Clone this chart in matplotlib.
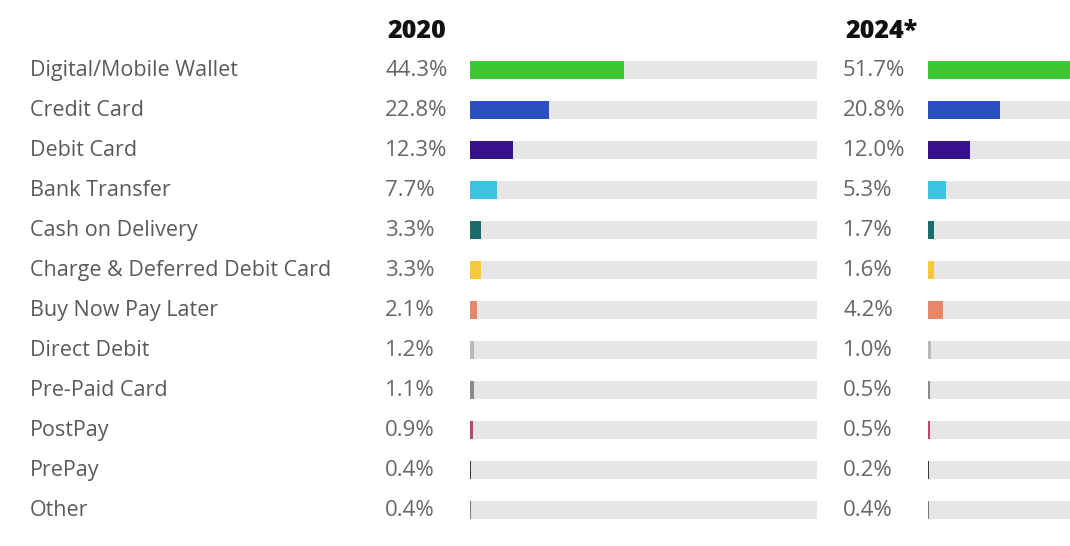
import matplotlib
matplotlib.use("Agg")
import matplotlib.pyplot as plt
import matplotlib.transforms as mtransforms

# data
methods = ["Digital/Mobile Wallet", "Credit Card", "Debit Card", "Bank Transfer",
           "Cash on Delivery", "Charge & Deferred Debit Card", "Buy Now Pay Later",
           "Direct Debit", "Pre-Paid Card", "PostPay", "PrePay", "Other"]
share_2020 = [44.3, 22.8, 12.3, 7.7, 3.3, 3.3, 2.1, 1.2, 1.1, 0.9, 0.4, 0.4]
share_2024 = [51.7, 20.8, 12.0, 5.3, 1.7, 1.6, 4.2, 1.0, 0.5, 0.5, 0.2, 0.4]
years = ["2020", "2024*"]
colors = ["#3dc832", "#2a4fc0", "#37108c", "#3cc3df", "#1c6b6b", "#f4c83f",
          "#e8866a", "#b8b8b8", "#8a8a8a", "#c0456e", "#3a3a3a", "#7a7a7a"]

plt.rcParams['font.family'] = ['Open Sans', 'DejaVu Sans']

fig = plt.figure(figsize=(10.7, 5.46), dpi=100)
W, H = 1070, 546

def add_panel(x0, values, year):
    ax = fig.add_axes([x0 / W, 16 / H, 347 / W, 480 / H])
    ypos = list(range(len(values)))
    ax.barh(ypos, [100] * len(values), height=0.46, color="#e6e6e6", left=0)
    ax.barh(ypos, values, height=0.46, color=colors)
    ax.set_xlim(0, 100)
    ax.set_ylim(len(values) - 0.5, -0.5)
    ax.axis("off")
    tr = mtransforms.blended_transform_factory(fig.transFigure, ax.transData)
    for i, v in enumerate(values):
        ax.text((x0 - 85) / W, i, f"{v:.1f}%", transform=tr, ha="left", va="center",
                fontsize=16, color="#666666")
    fig.text((x0 - 83) / W, 1 - 31 / H, year, ha="left", va="center",
             fontsize=18, fontweight="heavy", color="#111111")
    return ax

ax1 = add_panel(470, share_2020, years[0])
ax2 = add_panel(928, share_2024, years[1])

tr = mtransforms.blended_transform_factory(fig.transFigure, ax1.transData)
for i, m in enumerate(methods):
    ax1.text(30 / W, i, m, transform=tr, ha="left", va="center", fontsize=15.5,
             color="#5a5a5a")

fig.savefig("out.png", dpi=100)
